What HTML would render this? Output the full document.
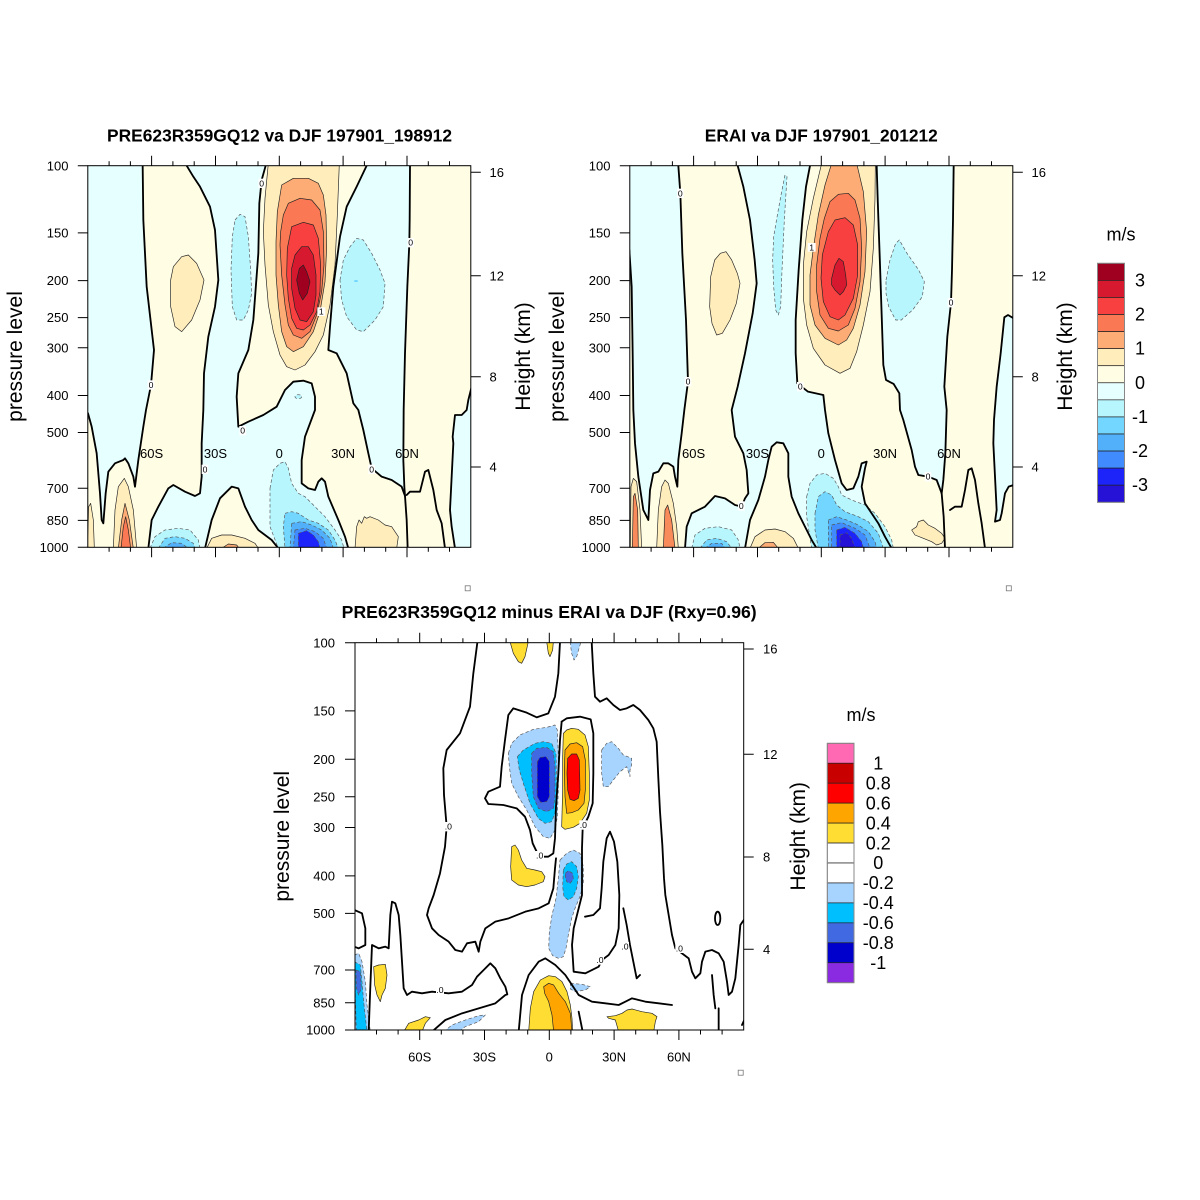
<!DOCTYPE html>
<html><head><meta charset="utf-8">
<style>
html,body{margin:0;padding:0;background:#fff;}
svg{display:block;font-family:"Liberation Sans",Arial,sans-serif;}
.z{fill:none;stroke:#000;stroke-width:5.5;stroke-linejoin:round;stroke-linecap:round}
.p{stroke:#222;stroke-width:2;stroke-linejoin:round}
.n{stroke:#555;stroke-width:2;stroke-dasharray:10 7;stroke-linejoin:round}
.t{font-size:13px;fill:#000}
.tl{font-size:13px;fill:#000;text-anchor:end}
.tc{font-size:13px;fill:#000;text-anchor:middle}
.ttl{font-size:17.5px;font-weight:bold;text-anchor:middle}
.ax{font-size:21px;text-anchor:middle}
.cb{font-size:18px;text-anchor:middle}
.lb{font-size:26px;text-anchor:middle}
</style></head>
<body>
<svg width="1200" height="1200" viewBox="0 0 1200 1200" xmlns="http://www.w3.org/2000/svg">
<defs>
<clipPath id="cp1"><rect x="87.8" y="165.7" width="383" height="381.6"/></clipPath>
<clipPath id="cp2"><rect x="629.8" y="165.7" width="383" height="381.6"/></clipPath>
<clipPath id="cp3"><rect x="355" y="642.7" width="388.7" height="387.3"/></clipPath>
</defs>
<rect width="1200" height="1200" fill="#fff"/>

<!-- ================= PANEL 1 ================= -->
<g clip-path="url(#cp1)">
<g transform="translate(0,120) scale(0.333333)">
<rect x="255" y="130" width="1170" height="1160" fill="#FFFDE4"/>
<g fill="#E6FFFF">
<path d="M264,137 L428,137 L430,300 L440,500 L462,690 L453,795 L438,870 L430,920 L415,1020 L405,1100 L400,1070 L385,1030 L375,1015 L370,1020 L345,1030 L325,1055 L317,1120 L310,1210 L305,1200 L300,1120 L290,1000 L275,920 L264,880 Z"/>
<path d="M560,137 L580,170 L600,200 L630,260 L645,330 L655,480 L645,560 L625,650 L612,760 L610,870 L605,970 L605,1070 L600,1120 L585,1128 L555,1115 L520,1095 L505,1105 L475,1160 L455,1200 L445,1285 L615,1285 L635,1200 L660,1135 L695,1100 L715,1105 L735,1160 L755,1200 L775,1230 L815,1260 L835,1285 L1045,1285 L1035,1250 L1015,1200 L985,1130 L975,1085 L965,1075 L955,1085 L945,1110 L925,1105 L905,1090 L905,1020 L915,950 L945,870 L945,830 L935,790 L910,782 L880,785 L855,810 L830,860 L790,885 L745,905 L715,920 L710,830 L715,760 L745,690 L760,600 L775,400 L778,250 L785,180 L797,137 Z"/>
<path d="M1100,137 L1230,137 L1229,300 L1228,370 L1222,500 L1215,700 L1211,870 L1210,1020 L1213,1100 L1215,1128 L1205,1100 L1175,1080 L1145,1070 L1115,1045 L1105,1000 L1090,930 L1075,870 L1060,850 L1040,760 L1010,700 L985,690 L990,620 L1000,500 L1020,350 L1040,260 L1070,200 Z"/>
<path d="M1415,800 L1405,840 L1400,870 L1385,885 L1365,885 L1358,950 L1360,970 L1355,1070 L1350,1170 L1355,1220 L1365,1285 L1415,1285 Z"/>
</g>
<!-- blobs -->
<path class="p" fill="#FFEDBC" d="M512,480 L520,440 L545,410 L565,405 L590,430 L612,480 L600,540 L575,600 L545,635 L525,620 L512,560 Z"/>
<path class="n" fill="#B8F6FE" d="M705,300 L720,283 L735,290 L745,350 L752,450 L755,520 L745,570 L730,600 L710,600 L697,560 L693,450 L697,350 Z"/>
<path class="n" fill="#B8F6FE" d="M1020,480 L1030,420 L1050,380 L1070,355 L1090,360 L1115,400 L1140,450 L1155,490 L1150,560 L1125,600 L1090,635 L1070,630 L1040,590 L1025,540 Z"/>
<ellipse cx="1068" cy="483" rx="6" ry="3" fill="#72D6FF"/>
<ellipse class="n" cx="895" cy="830" rx="10" ry="6" fill="#B8F6FE"/>
<!-- jet -->
<path class="p" fill="#FFEDBC" d="M805,130 L795,235 L790,335 L795,435 L805,555 L820,635 L840,705 L860,740 L885,750 L915,735 L945,695 L970,645 L990,555 L1005,435 L1012,285 L1018,130 Z"/>
<path class="p" fill="#FCAC74" d="M845,195 L880,175 L925,175 L955,190 L970,225 L978,285 L980,385 L975,485 L960,575 L940,635 L910,680 L880,695 L860,680 L845,635 L835,555 L828,465 L828,365 L832,275 Z"/>
<path class="p" fill="#FA7854" d="M865,250 L900,235 L935,240 L960,270 L970,335 L972,435 L965,515 L950,585 L930,635 L905,655 L880,645 L865,615 L855,555 L845,465 L840,375 L842,335 L850,285 Z"/>
<path class="p" fill="#F94040" d="M875,320 L910,307 L940,315 L955,355 L962,435 L960,515 L950,575 L930,615 L910,630 L890,625 L875,595 L865,535 L860,465 L862,385 Z"/>
<path class="p" fill="#D7192F" d="M885,405 L905,380 L925,380 L940,405 L948,465 L948,525 L940,575 L920,605 L900,600 L885,565 L875,505 L875,445 Z"/>
<path class="p" fill="#A00020" d="M898,445 L910,435 L920,455 L930,485 L922,520 L908,540 L898,520 L890,480 Z"/>
<!-- bottom blobs -->
<path class="p" fill="#FFEDBC" d="M262,1285 L266,1160 L272,1150 L280,1200 L283,1285 Z"/>
<path class="p" fill="#FFEDBC" d="M340,1285 L345,1170 L355,1100 L373,1075 L385,1100 L400,1170 L410,1285 Z"/>
<path class="p" fill="#FCAC74" d="M355,1285 L365,1200 L375,1150 L388,1200 L400,1285 Z"/>
<path class="p" fill="#FA7854" d="M363,1285 L370,1220 L377,1190 L385,1230 L392,1285 Z"/>
<path class="n" fill="#B8F6FE" d="M450,1285 L465,1250 L495,1230 L535,1225 L570,1230 L595,1260 L600,1285 Z"/>
<path class="n" fill="#72D6FF" d="M475,1285 L495,1255 L525,1250 L555,1255 L580,1270 L585,1285 Z"/>
<path class="n" fill="#52B0FA" d="M490,1285 L515,1268 L545,1270 L565,1285 Z"/>
<path class="p" fill="#FFEDBC" d="M620,1285 L635,1255 L665,1245 L695,1245 L735,1255 L765,1270 L775,1285 Z"/>
<path class="p" fill="#FCAC74" d="M665,1285 L685,1272 L710,1275 L718,1285 Z"/>
<path class="n" fill="#B8F6FE" d="M810,1105 L820,1050 L840,1030 L855,1025 L865,1045 L875,1090 L895,1120 L915,1130 L945,1160 L975,1190 L1005,1230 L1025,1260 L1032,1285 L835,1285 L810,1220 Z"/>
<path class="n" fill="#72D6FF" d="M855,1180 L875,1175 L895,1180 L925,1200 L955,1210 L985,1230 L1005,1260 L1015,1285 L855,1285 L850,1220 Z"/>
<path class="n" fill="#52B0FA" d="M875,1210 L905,1205 L935,1215 L965,1230 L990,1255 L1000,1285 L870,1285 Z"/>
<path class="n" fill="#408CFF" d="M885,1230 L915,1225 L945,1235 L970,1255 L980,1285 L880,1285 Z"/>
<path class="n" fill="#1C24FA" d="M895,1240 L920,1232 L940,1245 L955,1265 L960,1285 L895,1285 Z"/>
<path class="p" fill="#FFEDBC" d="M1065,1285 L1070,1220 L1077,1200 L1085,1210 L1093,1190 L1100,1195 L1110,1190 L1135,1200 L1155,1215 L1175,1220 L1195,1250 L1190,1285 Z"/>
<!-- zero lines -->
<path class="z" d="M428,137 L430,300 L440,500 L462,690 L453,795 L438,870 L430,920 L415,1020 L405,1100 L400,1070 L385,1030 L375,1015 L370,1020 L345,1030 L325,1055 L317,1120 L310,1210 L305,1200 L300,1120 L290,1000 L275,920 L264,880"/>
<path class="z" d="M560,137 L580,170 L600,200 L630,260 L645,330 L655,480 L645,560 L625,650 L612,760 L610,870 L605,970 L605,1070 L600,1120 L585,1128 L555,1115 L520,1095 L505,1105 L475,1160 L455,1200 L445,1285"/>
<path class="z" d="M615,1285 L635,1200 L660,1135 L695,1100 L715,1105 L735,1160 L755,1200 L775,1230 L815,1260 L835,1285"/>
<path class="z" d="M797,137 L785,180 L778,250 L775,400 L760,600 L745,690 L715,760 L710,830 L715,920 L745,905 L790,885 L830,860 L855,810 L880,785 L910,782 L935,790 L945,830 L945,870 L915,950 L905,1020 L905,1090 L925,1105 L945,1110 L955,1085 L965,1075 L975,1085 L985,1130 L1015,1200 L1035,1250 L1045,1285"/>
<path class="z" d="M1100,137 L1070,200 L1040,260 L1020,350 L1000,500 L990,620 L985,690 L1010,700 L1040,760 L1060,850 L1075,870 L1090,930 L1105,1000 L1115,1045 L1145,1070 L1175,1080 L1205,1100 L1215,1128 L1220,1200 L1223,1285"/>
<path class="z" d="M1230,137 L1229,300 L1228,370 L1222,500 L1215,700 L1211,870 L1210,1020 L1213,1100 L1215,1128"/>
<path class="z" d="M1415,800 L1405,840 L1400,870 L1385,885 L1365,885 L1358,950 L1360,970 L1355,1070 L1350,1170 L1355,1220 L1365,1285"/>
<path class="z" d="M1220,1125 L1230,1115 L1260,1115 L1275,1055 L1285,1050 L1300,1110 L1310,1170 L1325,1210 L1335,1285"/>
<!-- labels -->
<g fill="#fff"><rect x="775" y="176" width="20" height="28"/><rect x="1222" y="354" width="20" height="28"/><rect x="443" y="781" width="20" height="28"/><rect x="718" y="918" width="20" height="28"/><rect x="605" y="1034" width="20" height="28"/><rect x="1105" y="1034" width="20" height="28"/><rect x="952" y="562" width="24" height="26"/></g>
<g class="lb"><text x="785" y="199">0</text><text x="1232" y="377">0</text><text x="453" y="804">0</text><text x="728" y="941">0</text><text x="615" y="1057">0</text><text x="1115" y="1057">0</text><text x="964" y="584">1</text></g>
</g></g>

<!-- ================= PANEL 2 ================= -->
<g clip-path="url(#cp2)">
<g transform="translate(542,120) scale(0.333333)">
<rect x="255" y="130" width="1170" height="1160" fill="#FFFDE4"/>
<g fill="#E6FFFF">
<path d="M262,137 L409,137 L415,220 L421,400 L432,600 L438,785 L427,870 L419,940 L409,1020 L406,1100 L399,1070 L394,1040 L379,1030 L364,1030 L349,1055 L334,1060 L324,1110 L319,1200 L304,1170 L289,1070 L279,970 L274,870 L272,700 L269,500 L262,390 Z"/>
<path d="M587,137 L604,200 L624,300 L638,420 L644,490 L632,580 L609,700 L587,800 L569,870 L579,950 L604,1000 L614,1050 L619,1120 L609,1135 L599,1160 L579,1155 L549,1135 L519,1128 L489,1160 L449,1180 L434,1220 L429,1285 L609,1285 L624,1200 L649,1140 L669,1070 L679,1020 L689,980 L704,967 L724,970 L739,1000 L739,1070 L749,1130 L769,1180 L794,1230 L809,1260 L824,1285 L1049,1285 L1029,1250 L1009,1210 L989,1180 L969,1150 L959,1100 L969,1045 L974,1025 L959,1030 L949,1070 L934,1105 L914,1110 L899,1090 L879,1020 L859,940 L849,870 L844,825 L798,815 L766,790 L761,700 L761,600 L770,450 L781,300 L792,200 L804,137 Z"/>
<path d="M1004,137 L1235,137 L1233,300 L1230,450 L1227,548 L1216,650 L1207,800 L1214,870 L1210,1000 L1204,1080 L1199,1120 L1184,1080 L1159,1070 L1129,1065 L1119,1040 L1109,990 L1084,900 L1074,870 L1072,820 L1055,792 L1032,780 L1024,735 L1019,585 L1014,435 L1007,235 Z"/>
<path d="M1415,595 L1398,585 L1387,592 L1376,700 L1364,800 L1356,900 L1354,970 L1359,1070 L1364,1170 L1359,1205 L1374,1200 L1379,1180 L1389,1120 L1400,1100 L1415,1095 Z"/>
</g>
<path class="p" fill="#FFEDBC" d="M506,470 L518,420 L535,400 L552,395 L569,420 L586,460 L594,490 L583,550 L564,600 L541,640 L524,645 L510,610 L503,560 Z"/>
<path class="n" fill="#B8F6FE" d="M729,165 L718,220 L707,280 L695,350 L692,420 L695,500 L701,570 L709,585 L716,560 L720,450 L727,300 L735,170 Z"/>
<path class="n" fill="#B8F6FE" d="M1032,480 L1044,420 L1061,370 L1072,360 L1095,400 L1130,450 L1147,485 L1141,530 L1112,570 L1078,600 L1061,600 L1040,560 L1032,520 Z"/>
<!-- jet -->
<path class="p" fill="#FFEDBC" d="M839,130 L814,235 L794,335 L784,435 L784,535 L794,615 L814,685 L849,735 L894,760 L924,745 L944,695 L964,615 L984,515 L994,385 L999,235 L1000,130 Z"/>
<path class="p" fill="#FCAC74" d="M869,130 L849,195 L829,285 L814,385 L804,465 L804,555 L819,615 L849,655 L889,675 L914,660 L934,625 L954,555 L969,455 L974,335 L964,215 L944,130 Z"/>
<path class="p" fill="#FA7854" d="M864,245 L889,223 L919,220 L939,240 L954,295 L959,385 L954,485 L939,565 L919,615 L889,633 L859,625 L834,585 L824,515 L824,435 L834,355 L847,295 Z"/>
<path class="p" fill="#F94040" d="M859,335 L879,300 L909,293 L934,315 L947,375 L947,465 L934,535 L909,585 L889,600 L864,590 L844,545 L837,475 L841,405 Z"/>
<path class="p" fill="#D7192F" d="M869,475 L879,435 L891,415 L904,425 L911,465 L914,495 L904,515 L894,525 L879,510 L869,495 Z"/>
<!-- bottom -->
<path class="p" fill="#FFEDBC" d="M265,1285 L267,1100 L274,1075 L284,1085 L294,1170 L299,1285 Z"/>
<path class="p" fill="#F98A5A" d="M271,1285 L274,1130 L279,1120 L287,1170 L289,1285 Z"/>
<path class="p" fill="#FFEDBC" d="M344,1285 L349,1170 L359,1100 L369,1080 L379,1090 L394,1150 L404,1220 L409,1285 Z"/>
<path class="p" fill="#F98A5A" d="M364,1285 L369,1170 L377,1155 L389,1200 L399,1285 Z"/>
<path class="n" fill="#B8F6FE" d="M449,1285 L459,1245 L489,1225 L529,1220 L569,1230 L589,1260 L594,1285 Z"/>
<path class="n" fill="#72D6FF" d="M474,1285 L494,1260 L524,1255 L554,1265 L569,1285 Z"/>
<path class="n" fill="#52B0FA" d="M489,1285 L509,1270 L539,1270 L549,1285 Z"/>
<path class="p" fill="#FFEDBC" d="M624,1285 L639,1250 L669,1230 L699,1227 L729,1235 L754,1255 L769,1285 Z"/>
<path class="p" fill="#FCAC74" d="M649,1285 L669,1268 L694,1267 L709,1285 Z"/>
<path class="n" fill="#B8F6FE" d="M794,1130 L804,1090 L824,1065 L849,1060 L874,1075 L889,1100 L899,1125 L929,1140 L969,1155 L999,1180 L1029,1220 L1049,1260 L1054,1285 L809,1285 L794,1190 Z"/>
<path class="n" fill="#72D6FF" d="M819,1180 L829,1130 L849,1115 L869,1125 L884,1155 L909,1175 L949,1190 L979,1205 L1009,1240 L1024,1285 L829,1285 L819,1230 Z"/>
<path class="n" fill="#52B0FA" d="M859,1200 L884,1190 L914,1200 L949,1215 L979,1235 L999,1265 L1004,1285 L859,1285 Z"/>
<path class="n" fill="#408CFF" d="M869,1215 L899,1208 L939,1225 L969,1245 L984,1285 L869,1285 Z"/>
<path class="n" fill="#1C24FA" d="M884,1230 L909,1222 L939,1240 L959,1265 L964,1285 L884,1285 Z"/>
<path class="n" fill="#2612D6" d="M894,1245 L914,1238 L929,1255 L939,1285 L894,1285 Z"/>
<path class="p" fill="#FFEDBC" d="M1109,1230 L1124,1220 L1129,1205 L1144,1200 L1159,1215 L1179,1225 L1199,1240 L1209,1255 L1199,1270 L1184,1275 L1169,1265 L1144,1255 L1119,1245 Z"/>
<!-- zero lines -->
<path class="z" d="M262,390 L269,500 L272,700 L274,870 L279,970 L289,1070 L304,1170 L319,1200 L324,1110 L334,1060 L349,1055 L364,1030 L379,1030 L394,1040 L399,1070 L406,1100 L409,1020 L419,940 L427,870 L438,785 L432,600 L421,400 L415,220 L409,137"/>
<path class="z" d="M587,137 L604,200 L624,300 L638,420 L644,490 L632,580 L609,700 L587,800 L569,870 L579,950 L604,1000 L614,1050 L619,1120 L609,1135 L599,1160 L579,1155 L549,1135 L519,1128 L489,1160 L449,1180 L434,1220 L429,1285"/>
<path class="z" d="M609,1285 L624,1200 L649,1140 L669,1070 L679,1020 L689,980 L704,967 L724,970 L739,1000 L739,1070 L749,1130 L769,1180 L794,1230 L809,1260 L824,1285"/>
<path class="z" d="M804,137 L792,200 L781,300 L770,450 L761,600 L761,700 L766,790 L798,815 L844,825 L849,870 L859,940 L879,1020 L899,1090 L914,1110 L934,1105 L949,1070 L959,1030 L974,1025 L969,1045 L959,1100 L969,1150 L989,1180 L1009,1210 L1029,1250 L1049,1285"/>
<path class="z" d="M1004,137 L1007,235 L1014,435 L1019,585 L1024,735 L1032,780 L1055,792 L1072,820 L1074,870 L1084,900 L1109,990 L1119,1040 L1129,1065 L1159,1070 L1184,1080 L1199,1120 L1205,1190 L1209,1285"/>
<path class="z" d="M1235,137 L1233,300 L1230,450 L1227,548 L1216,650 L1207,800 L1214,870 L1210,1000 L1204,1080 L1199,1120"/>
<path class="z" d="M1415,595 L1398,585 L1387,592 L1376,700 L1364,800 L1356,900 L1354,970 L1359,1070 L1364,1170 L1359,1205 L1374,1200 L1379,1180 L1389,1120 L1400,1100 L1415,1095"/>
<path class="z" d="M1224,1170 L1239,1160 L1259,1160 L1269,1110 L1279,1050 L1289,1045 L1299,1080 L1309,1150 L1319,1210 L1329,1285"/>
<g fill="#fff"><rect x="405" y="206" width="20" height="28"/><rect x="428" y="771" width="20" height="28"/><rect x="765" y="786" width="20" height="28"/><rect x="588" y="1144" width="20" height="28"/><rect x="1148" y="1056" width="20" height="28"/><rect x="1217" y="534" width="20" height="28"/><rect x="797" y="369" width="24" height="26"/></g>
<g class="lb"><text x="415" y="229">0</text><text x="438" y="794">0</text><text x="775" y="809">0</text><text x="598" y="1167">0</text><text x="1158" y="1079">0</text><text x="1227" y="557">0</text><text x="809" y="391">1</text></g>
</g></g>

<!-- ================= PANEL 3 ================= -->
<g clip-path="url(#cp3)">
<g transform="translate(260,595) scale(0.333333)">
<rect x="280" y="140" width="1175" height="1170" fill="#fff"/>
<!-- top blobs -->
<path class="p" fill="#FFDD33" d="M750,140 L760,175 L775,200 L785,205 L795,185 L805,140 Z"/>
<path class="p" fill="#FFDD33" d="M860,140 L865,175 L870,185 L878,165 L880,140 Z"/>
<path class="n" fill="#A7D3FF" d="M930,140 L935,175 L942,195 L950,185 L963,140 Z"/>
<!-- blue dipole -->
<path class="n" fill="#A7D3FF" d="M745,475 L755,445 L780,420 L820,403 L860,397 L885,390 L892,405 L895,485 L895,585 L892,665 L885,705 L870,730 L850,725 L825,695 L800,645 L775,605 L755,565 L748,515 Z"/>
<path class="n" fill="#00BFFF" d="M772,485 L790,465 L825,445 L850,440 L875,445 L888,475 L890,585 L885,655 L875,680 L855,685 L835,670 L810,625 L790,565 L778,525 Z"/>
<path class="n" fill="#4169E1" d="M815,475 L830,460 L860,457 L880,470 L885,515 L885,605 L880,640 L860,650 L835,640 L820,605 L815,535 Z"/>
<path class="n" fill="#0000CD" d="M832,500 L840,487 L858,485 L868,500 L868,605 L860,620 L842,622 L832,605 Z"/>
<!-- red side -->
<path class="p" fill="#FFDD33" d="M910,415 L920,405 L935,400 L955,403 L975,420 L985,455 L988,535 L988,615 L980,655 L960,685 L940,697 L915,703 L905,695 L908,585 L908,485 Z"/>
<path class="p" fill="#FFA500" d="M915,465 L930,447 L950,443 L968,455 L976,495 L976,585 L972,625 L955,645 L935,653 L920,655 L915,605 L913,525 Z"/>
<path class="p" fill="#FF0000" d="M923,490 L935,477 L950,477 L958,495 L960,585 L955,610 L942,617 L930,613 L923,585 L921,535 Z"/>
<!-- right light blue -->
<path class="n" fill="#A7D3FF" d="M1025,465 L1040,445 L1055,440 L1075,460 L1090,480 L1115,490 L1115,510 L1110,525 L1110,545 L1100,515 L1080,530 L1060,555 L1045,575 L1030,575 L1025,535 Z"/>
<!-- 400 hPa -->
<path class="p" fill="#FFDD33" d="M755,755 L765,750 L775,765 L785,795 L800,820 L825,825 L845,830 L855,845 L850,860 L825,870 L800,875 L775,870 L755,855 L752,815 Z"/>
<path class="n" fill="#A7D3FF" d="M900,795 L920,775 L940,765 L960,775 L970,815 L970,865 L960,905 L945,940 L935,970 L925,1020 L918,1060 L910,1085 L895,1090 L878,1082 L866,1060 L868,1010 L876,960 L888,910 L895,850 Z"/>
<path class="n" fill="#00BFFF" d="M910,825 L920,807 L935,800 L950,815 L955,845 L950,880 L940,905 L925,915 L912,905 L908,875 Z"/>
<path class="n" fill="#4169E1" d="M916,835 L925,827 L938,835 L940,853 L930,865 L920,860 L916,847 Z"/>
<!-- bottom -->
<path class="n" fill="#A7D3FF" d="M283,1080 L296,1075 L306,1100 L316,1160 L321,1230 L331,1310 L283,1310 Z"/>
<path class="n" fill="#00BFFF" d="M283,1100 L301,1110 L306,1160 L311,1220 L321,1310 L289,1310 Z"/>
<path class="n" fill="#4169E1" d="M288,1125 L301,1130 L304,1180 L296,1200 L289,1180 Z"/>
<path class="p" fill="#FFDD33" d="M341,1115 L356,1110 L376,1108 L381,1140 L376,1180 L366,1200 L361,1220 L351,1200 L344,1170 Z"/>
<path class="p" fill="#FFDD33" d="M431,1310 L446,1285 L476,1275 L496,1265 L511,1268 L496,1285 L486,1310 Z"/>
<path class="n" fill="#A7D3FF" d="M551,1310 L576,1290 L616,1275 L656,1262 L676,1260 L656,1280 L616,1295 L596,1310 Z"/>
<path class="p" fill="#FFDD33" d="M806,1310 L811,1240 L821,1190 L841,1155 L866,1142 L886,1145 L906,1160 L921,1190 L931,1230 L936,1270 L938,1310 Z"/>
<path class="p" fill="#FFA500" d="M851,1175 L866,1165 L881,1170 L896,1195 L916,1220 L931,1255 L936,1310 L881,1310 L876,1260 L866,1220 L854,1195 Z"/>
<path class="n" fill="#A7D3FF" d="M931,1165 L966,1168 L991,1175 L976,1185 L946,1190 L931,1182 Z"/>
<path class="p" fill="#FFDD33" d="M1041,1265 L1066,1262 L1086,1255 L1101,1245 L1116,1242 L1146,1250 L1176,1255 L1191,1265 L1186,1280 L1181,1310 L1076,1310 L1066,1275 L1046,1270 Z"/>
<!-- zero lines -->
<path class="z" d="M652,143 L640,235 L630,335 L600,415 L560,465 L550,520 L552,600 L560,695 L555,755 L540,835 L521,900 L506,940 L501,960 L516,1000 L536,1020 L566,1040 L586,1065 L606,1070 L621,1045 L646,1040 L656,1070 L661,1040 L676,1000 L706,980 L746,970 L796,950 L836,940 L866,925 L880,880 L885,820 L888,790"/>
<path class="z" d="M900,140 L895,235 L885,305 L865,355 L830,367 L800,353 L760,340 L745,360 L735,435 L725,515 L720,575 L685,590 L675,610 L685,627 L730,630 L770,640 L795,665 L810,705 L818,745 L830,770 L845,785 L865,785 L880,775 L885,730 L888,635 L895,535 L900,435 L905,380"/>
<path class="z" d="M905,380 L920,370 L960,365 L992,373 L1000,415 L1000,535 L998,625 L985,665 L968,700 L966,760 L966,840 L966,900 L941,1000 L936,1050 L941,1130 L976,1135 L1016,1115 L1026,1095 L1046,1080 L1066,1050 L1076,1000 L1078,900 L1072,800 L1062,740 L1050,710 L1040,730 L1030,800 L1025,880 L1020,940 L1000,960 L975,965"/>
<path class="z" d="M995,140 L1000,235 L1005,305 L1020,320 L1040,310 L1060,330 L1080,345 L1100,340 L1120,330 L1140,345 L1165,375 L1180,400 L1190,440 L1195,550 L1200,650 L1207,750 L1212,850 L1216,900 L1226,960 L1236,1020 L1246,1060 L1266,1075 L1286,1090 L1296,1130 L1306,1150 L1321,1135 L1326,1100 L1336,1070 L1356,1065 L1376,1075 L1391,1100 L1396,1130 L1401,1160 L1406,1200 L1416,1190 L1426,1150 L1436,1050 L1441,990 L1455,970"/>
<ellipse class="z" cx="1373" cy="970" rx="8" ry="20"/>
<path class="z" d="M283,945 L306,955 L316,1000 L316,1050 L296,1060 L283,1055"/>
<path class="z" d="M326,1310 L330,1200 L334,1100 L336,1050 L356,1060 L376,1055 L386,1060 L391,960 L396,920 L406,925 L416,960 L421,1020 L426,1100 L431,1180 L441,1200 L456,1190 L486,1195 L516,1190 L566,1195 L606,1190 L636,1170 L651,1145 L671,1125 L691,1105 L706,1120 L721,1150 L736,1175 L742,1198 L736,1200 L706,1225 L656,1240 L606,1255 L556,1275 L516,1310"/>
<path class="z" d="M776,1310 L786,1200 L806,1140 L836,1100 L856,1090 L886,1110 L916,1140 L936,1170 L956,1200 L996,1220 L1036,1225 L1076,1230 L1096,1220 L1116,1210 L1136,1215 L1156,1220 L1196,1225 L1236,1230"/>
<path class="z" d="M1090,940 L1100,990 L1110,1050 L1120,1100 L1130,1150 L1140,1140"/>
<path class="z" d="M1356,1140 L1361,1200 L1366,1240 M1376,1240 L1376,1310 M1446,1290 L1455,1270"/>
<path class="z" d="M956,1250 L968,1310"/>
<g fill="#fff"><rect x="553" y="681" width="24" height="28"/><rect x="826" y="768" width="26" height="28"/><rect x="958" y="676" width="24" height="28"/><rect x="1008" y="1081" width="24" height="28"/><rect x="1083" y="1041" width="24" height="28"/><rect x="1246" y="1046" width="24" height="28"/><rect x="528" y="1171" width="24" height="28"/></g>
<g class="lb"><text x="565" y="704">.0</text><text x="839" y="791">.0</text><text x="970" y="699">.0</text><text x="1020" y="1104">.0</text><text x="1095" y="1064">.0</text><text x="1258" y="1069">.0</text><text x="540" y="1194">.0</text></g>
</g></g>

<!-- ================= AXES ================= -->
<g fill="none" stroke="#000" stroke-width="1">
<rect x="87.8" y="165.7" width="383" height="381.6"/>
<rect x="629.8" y="165.7" width="383" height="381.6"/>
<rect x="355" y="642.7" width="388.7" height="387.3"/>
<!-- panel 1 ticks -->
<path d="M77.8,165.7H87.8M77.8,232.9H87.8M77.8,280.6H87.8M77.8,317.6H87.8M77.8,347.8H87.8M77.8,395.5H87.8M77.8,432.5H87.8M77.8,488.2H87.8M77.8,520.4H87.8M77.8,547.3H87.8"/>
<path d="M470.8,172.3H480.8M470.8,275.7H480.8M470.8,376.7H480.8M470.8,467H480.8"/>
<path d="M151.6,155.7V165.7M215.5,155.7V165.7M279.3,155.7V165.7M343.1,155.7V165.7M407,155.7V165.7M151.6,547.3V557.3M215.5,547.3V557.3M279.3,547.3V557.3M343.1,547.3V557.3M407,547.3V557.3"/>
<path d="M109.1,161.2V165.7M130.4,161.2V165.7M172.9,161.2V165.7M194.2,161.2V165.7M236.7,161.2V165.7M258,161.2V165.7M300.6,161.2V165.7M321.9,161.2V165.7M364.4,161.2V165.7M385.7,161.2V165.7M428.3,161.2V165.7M449.5,161.2V165.7"/>
<path d="M109.1,547.3V551.8M130.4,547.3V551.8M172.9,547.3V551.8M194.2,547.3V551.8M236.7,547.3V551.8M258,547.3V551.8M300.6,547.3V551.8M321.9,547.3V551.8M364.4,547.3V551.8M385.7,547.3V551.8M428.3,547.3V551.8M449.5,547.3V551.8"/>
<!-- panel 2 ticks -->
<g transform="translate(542,0)">
<path d="M77.8,165.7H87.8M77.8,232.9H87.8M77.8,280.6H87.8M77.8,317.6H87.8M77.8,347.8H87.8M77.8,395.5H87.8M77.8,432.5H87.8M77.8,488.2H87.8M77.8,520.4H87.8M77.8,547.3H87.8"/>
<path d="M470.8,172.3H480.8M470.8,275.7H480.8M470.8,376.7H480.8M470.8,467H480.8"/>
<path d="M151.6,155.7V165.7M215.5,155.7V165.7M279.3,155.7V165.7M343.1,155.7V165.7M407,155.7V165.7M151.6,547.3V557.3M215.5,547.3V557.3M279.3,547.3V557.3M343.1,547.3V557.3M407,547.3V557.3"/>
<path d="M109.1,161.2V165.7M130.4,161.2V165.7M172.9,161.2V165.7M194.2,161.2V165.7M236.7,161.2V165.7M258,161.2V165.7M300.6,161.2V165.7M321.9,161.2V165.7M364.4,161.2V165.7M385.7,161.2V165.7M428.3,161.2V165.7M449.5,161.2V165.7"/>
<path d="M109.1,547.3V551.8M130.4,547.3V551.8M172.9,547.3V551.8M194.2,547.3V551.8M236.7,547.3V551.8M258,547.3V551.8M300.6,547.3V551.8M321.9,547.3V551.8M364.4,547.3V551.8M385.7,547.3V551.8M428.3,547.3V551.8M449.5,547.3V551.8"/>
</g>
<!-- panel 3 ticks -->
<path d="M345,642.7H355M345,710.9H355M345,759.3H355M345,796.8H355M345,827.5H355M345,875.9H355M345,913.4H355M345,970H355M345,1002.7H355M345,1030H355"/>
<path d="M743.7,649H753.7M743.7,754.3H753.7M743.7,857H753.7M743.7,949.3H753.7"/>
<path d="M419.7,632.7V642.7M484.5,632.7V642.7M549.3,632.7V642.7M614.1,632.7V642.7M678.9,632.7V642.7M419.7,1030V1040M484.5,1030V1040M549.3,1030V1040M614.1,1030V1040M678.9,1030V1040"/>
<path d="M376.5,638.2V642.7M398.1,638.2V642.7M441.3,638.2V642.7M462.9,638.2V642.7M506.1,638.2V642.7M527.7,638.2V642.7M570.9,638.2V642.7M592.5,638.2V642.7M635.7,638.2V642.7M657.3,638.2V642.7M700.5,638.2V642.7M722.1,638.2V642.7"/>
<path d="M376.5,1030V1034.5M398.1,1030V1034.5M441.3,1030V1034.5M462.9,1030V1034.5M506.1,1030V1034.5M527.7,1030V1034.5M570.9,1030V1034.5M592.5,1030V1034.5M635.7,1030V1034.5M657.3,1030V1034.5M700.5,1030V1034.5M722.1,1030V1034.5"/>
</g>
<!-- small squares -->
<g fill="none" stroke="#777" stroke-width="0.8">
<rect x="465.2" y="585.8" width="5" height="5"/>
<rect x="1006.3" y="585.8" width="5" height="5"/>
<rect x="738.2" y="1070.2" width="5" height="5"/>
</g>

<!-- tick labels panel 1 -->
<g class="tl">
<text x="68.5" y="170.3">100</text><text x="68.5" y="237.5">150</text><text x="68.5" y="285.2">200</text><text x="68.5" y="322.2">250</text><text x="68.5" y="352.4">300</text><text x="68.5" y="400.1">400</text><text x="68.5" y="437.1">500</text><text x="68.5" y="492.8">700</text><text x="68.5" y="525">850</text><text x="68.5" y="551.9">1000</text>
</g>
<g class="t"><text x="489.5" y="176.9">16</text><text x="489.5" y="280.3">12</text><text x="489.5" y="381.3">8</text><text x="489.5" y="471.6">4</text></g>
<g class="tc"><text x="151.6" y="458">60S</text><text x="215.5" y="458">30S</text><text x="279.3" y="458">0</text><text x="343.1" y="458">30N</text><text x="407" y="458">60N</text></g>
<!-- tick labels panel 2 -->
<g class="tl">
<text x="610.5" y="170.3">100</text><text x="610.5" y="237.5">150</text><text x="610.5" y="285.2">200</text><text x="610.5" y="322.2">250</text><text x="610.5" y="352.4">300</text><text x="610.5" y="400.1">400</text><text x="610.5" y="437.1">500</text><text x="610.5" y="492.8">700</text><text x="610.5" y="525">850</text><text x="610.5" y="551.9">1000</text>
</g>
<g class="t"><text x="1031.5" y="176.9">16</text><text x="1031.5" y="280.3">12</text><text x="1031.5" y="381.3">8</text><text x="1031.5" y="471.6">4</text></g>
<g class="tc"><text x="693.6" y="458">60S</text><text x="757.5" y="458">30S</text><text x="821.3" y="458">0</text><text x="885.1" y="458">30N</text><text x="949" y="458">60N</text></g>
<!-- tick labels panel 3 -->
<g class="tl">
<text x="335" y="647.3">100</text><text x="335" y="715.5">150</text><text x="335" y="763.9">200</text><text x="335" y="801.4">250</text><text x="335" y="832.1">300</text><text x="335" y="880.5">400</text><text x="335" y="918">500</text><text x="335" y="974.6">700</text><text x="335" y="1007.3">850</text><text x="335" y="1034.6">1000</text>
</g>
<g class="t"><text x="763" y="653.6">16</text><text x="763" y="758.9">12</text><text x="763" y="861.6">8</text><text x="763" y="953.9">4</text></g>
<g class="tc"><text x="419.7" y="1061.5">60S</text><text x="484.5" y="1061.5">30S</text><text x="549.3" y="1061.5">0</text><text x="614.1" y="1061.5">30N</text><text x="678.9" y="1061.5">60N</text></g>

<!-- titles -->
<text class="ttl" x="279.5" y="141.3" textLength="345" lengthAdjust="spacingAndGlyphs">PRE623R359GQ12 va DJF 197901_198912</text>
<text class="ttl" x="821.3" y="141.3" textLength="233" lengthAdjust="spacingAndGlyphs">ERAI va DJF 197901_201212</text>
<text class="ttl" x="549.2" y="618" textLength="415" lengthAdjust="spacingAndGlyphs">PRE623R359GQ12 minus ERAI va DJF (Rxy=0.96)</text>

<!-- axis titles -->
<text class="ax" transform="translate(22,356.5) rotate(-90)">pressure level</text>
<text class="ax" transform="translate(564,356.5) rotate(-90)">pressure level</text>
<text class="ax" transform="translate(289,836.3) rotate(-90)">pressure level</text>
<text class="ax" transform="translate(530,356.5) rotate(-90)">Height (km)</text>
<text class="ax" transform="translate(1072,356.5) rotate(-90)">Height (km)</text>
<text class="ax" transform="translate(805,836.3) rotate(-90)">Height (km)</text>

<!-- colorbar 1 -->
<g stroke="#222" stroke-width="0.7">
<rect x="1097.5" y="263.3" width="27" height="17.07" fill="#A00020"/>
<rect x="1097.5" y="280.37" width="27" height="17.07" fill="#D7192F"/>
<rect x="1097.5" y="297.44" width="27" height="17.07" fill="#F94040"/>
<rect x="1097.5" y="314.51" width="27" height="17.07" fill="#FA7854"/>
<rect x="1097.5" y="331.58" width="27" height="17.07" fill="#FCAC74"/>
<rect x="1097.5" y="348.65" width="27" height="17.07" fill="#FFEDBC"/>
<rect x="1097.5" y="365.72" width="27" height="17.07" fill="#FFFDE4"/>
<rect x="1097.5" y="382.79" width="27" height="17.07" fill="#E6FFFF"/>
<rect x="1097.5" y="399.86" width="27" height="17.07" fill="#B8F6FE"/>
<rect x="1097.5" y="416.93" width="27" height="17.07" fill="#72D6FF"/>
<rect x="1097.5" y="434" width="27" height="17.07" fill="#52B0FA"/>
<rect x="1097.5" y="451.07" width="27" height="17.07" fill="#408CFF"/>
<rect x="1097.5" y="468.14" width="27" height="17.07" fill="#1C24FA"/>
<rect x="1097.5" y="485.21" width="27" height="17.07" fill="#2612D6"/>
</g>
<rect x="1097.5" y="263.3" width="27" height="239" fill="none" stroke="#888" stroke-width="1"/>
<g class="cb">
<text x="1140" y="286.4">3</text><text x="1140" y="320.5">2</text><text x="1140" y="354.7">1</text><text x="1140" y="388.8">0</text><text x="1140" y="422.9">-1</text><text x="1140" y="457.1">-2</text><text x="1140" y="491.2">-3</text>
</g>
<text class="cb" x="1121" y="240.5">m/s</text>

<!-- colorbar 2 -->
<g stroke="#222" stroke-width="0.7">
<rect x="827.3" y="743.3" width="26.7" height="19.95" fill="#FF69B4"/>
<rect x="827.3" y="763.25" width="26.7" height="19.95" fill="#C80000"/>
<rect x="827.3" y="783.2" width="26.7" height="19.95" fill="#FF0000"/>
<rect x="827.3" y="803.15" width="26.7" height="19.95" fill="#FFA500"/>
<rect x="827.3" y="823.1" width="26.7" height="19.95" fill="#FFDD33"/>
<rect x="827.3" y="843.05" width="26.7" height="19.95" fill="#FFFFFF"/>
<rect x="827.3" y="863" width="26.7" height="19.95" fill="#FFFFFF"/>
<rect x="827.3" y="882.95" width="26.7" height="19.95" fill="#A7D3FF"/>
<rect x="827.3" y="902.9" width="26.7" height="19.95" fill="#00BFFF"/>
<rect x="827.3" y="922.85" width="26.7" height="19.95" fill="#4169E1"/>
<rect x="827.3" y="942.8" width="26.7" height="19.95" fill="#0000CD"/>
<rect x="827.3" y="962.75" width="26.7" height="19.95" fill="#8A2BE2"/>
</g>
<rect x="827.3" y="743.3" width="26.7" height="239.4" fill="none" stroke="#888" stroke-width="1"/>
<g class="cb">
<text x="878.3" y="769.5">1</text><text x="878.3" y="789.4">0.8</text><text x="878.3" y="809.4">0.6</text><text x="878.3" y="829.3">0.4</text><text x="878.3" y="849.3">0.2</text><text x="878.3" y="869.2">0</text><text x="878.3" y="889.2">-0.2</text><text x="878.3" y="909.1">-0.4</text><text x="878.3" y="929.1">-0.6</text><text x="878.3" y="949">-0.8</text><text x="878.3" y="969">-1</text>
</g>
<text class="cb" x="861" y="721">m/s</text>
</svg>
</body></html>
